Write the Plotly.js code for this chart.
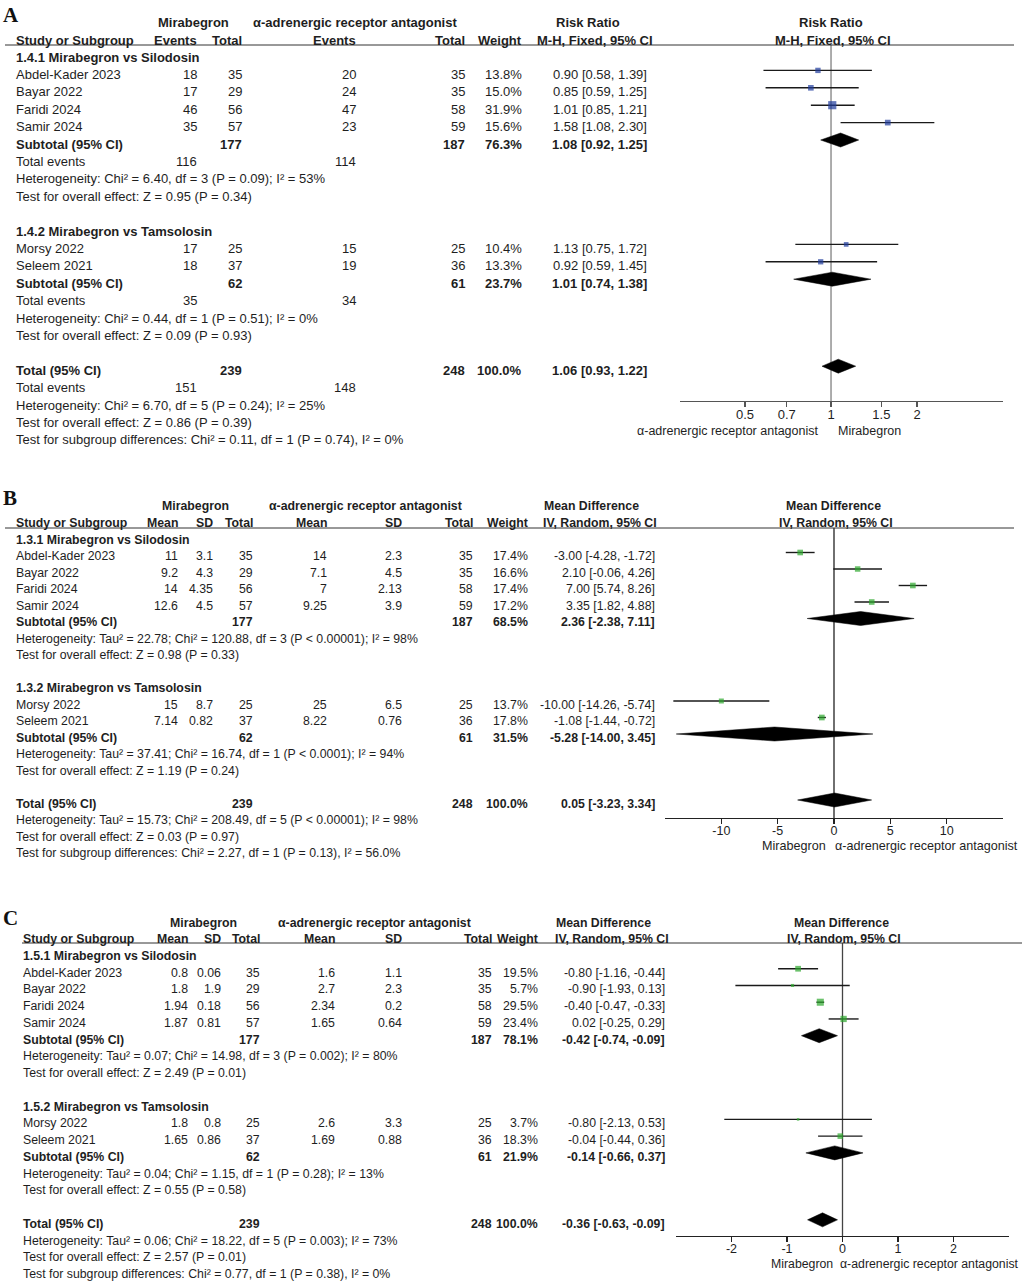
<!DOCTYPE html>
<html>
<head>
<meta charset="utf-8">
<script src="https://cdn.plot.ly/plotly-3.0.1.min.js"></script>
<style>html,body{margin:0;padding:0;background:#fff;overflow:hidden}</style>
</head>
<body>
<div id="chart" style="width:1024px;height:1286px"></div>
<script>
// ================= DATA =================
const studies = ['Abdel-Kader 2023','Bayar 2022','Faridi 2024','Samir 2024','Morsy 2022','Seleem 2021'];
const studyGroup = [0,0,0,0,1,1];
const mirTotal = [35,29,56,57,25,37];
const altTotal = [35,35,58,59,25,36];
const subMirTotal = [177,62];
const subAltTotal = [187,61];
const totMirTotal = 239;
const totAltTotal = 248;
const totWeight = 100.0;
const alphaLabel = 'α-adrenergic receptor antagonist';

// ---- Panel A: Risk Ratio (events) ----
const A_subgroups = ['1.4.1 Mirabegron vs Silodosin','1.4.2 Mirabegron vs Tamsolosin'];
const A_mirEvents = [18,17,46,35,17,18];
const A_altEvents = [20,24,47,23,15,19];
const A_weight = [13.8,15.0,31.9,15.6,10.4,13.3];
const A_est = [0.90,0.85,1.01,1.58,1.13,0.92];
const A_lo  = [0.58,0.59,0.85,1.08,0.75,0.59];
const A_hi  = [1.39,1.25,1.21,2.30,1.72,1.45];
const A_subMirEvents = [116,35];
const A_subAltEvents = [114,34];
const A_subWeight = [76.3,23.7];
const A_subEst = [1.08,1.01];
const A_subLo  = [0.92,0.74];
const A_subHi  = [1.25,1.38];
const A_subHet = ['Heterogeneity: Chi² = 6.40, df = 3 (P = 0.09); I² = 53%','Heterogeneity: Chi² = 0.44, df = 1 (P = 0.51); I² = 0%'];
const A_subTest = ['Test for overall effect: Z = 0.95 (P = 0.34)','Test for overall effect: Z = 0.09 (P = 0.93)'];
const A_totMirEvents = 151;
const A_totAltEvents = 148;
const A_tot = [1.06,0.93,1.22];
const A_totNotes = ['Heterogeneity: Chi² = 6.70, df = 5 (P = 0.24); I² = 25%','Test for overall effect: Z = 0.86 (P = 0.39)','Test for subgroup differences: Chi² = 0.11, df = 1 (P = 0.74), I² = 0%'];
const A_ticks = [0.5,0.7,1,1.5,2];

// ---- Panel B: Mean Difference ----
const B_subgroups = ['1.3.1 Mirabegron vs Silodosin','1.3.2 Mirabegron vs Tamsolosin'];
const B_mirMean = [11,9.2,14,12.6,15,7.14];
const B_mirSD   = [3.1,4.3,4.35,4.5,8.7,0.82];
const B_altMean = [14,7.1,7,9.25,25,8.22];
const B_altSD   = [2.3,4.5,2.13,3.9,6.5,0.76];
const B_weight = [17.4,16.6,17.4,17.2,13.7,17.8];
const B_est = [-3.00,2.10,7.00,3.35,-10.00,-1.08];
const B_lo  = [-4.28,-0.06,5.74,1.82,-14.26,-1.44];
const B_hi  = [-1.72,4.26,8.26,4.88,-5.74,-0.72];
const B_subWeight = [68.5,31.5];
const B_subEst = [2.36,-5.28];
const B_subLo  = [-2.38,-14.00];
const B_subHi  = [7.11,3.45];
const B_subHet = ['Heterogeneity: Tau² = 22.78; Chi² = 120.88, df = 3 (P &lt; 0.00001); I² = 98%','Heterogeneity: Tau² = 37.41; Chi² = 16.74, df = 1 (P &lt; 0.0001); I² = 94%'];
const B_subTest = ['Test for overall effect: Z = 0.98 (P = 0.33)','Test for overall effect: Z = 1.19 (P = 0.24)'];
const B_tot = [0.05,-3.23,3.34];
const B_totNotes = ['Heterogeneity: Tau² = 15.73; Chi² = 208.49, df = 5 (P &lt; 0.00001); I² = 98%','Test for overall effect: Z = 0.03 (P = 0.97)','Test for subgroup differences: Chi² = 2.27, df = 1 (P = 0.13), I² = 56.0%'];
const B_ticks = [-10,-5,0,5,10];

// ---- Panel C: Mean Difference ----
const C_subgroups = ['1.5.1 Mirabegron vs Silodosin','1.5.2 Mirabegron vs Tamsolosin'];
const C_mirMean = [0.8,1.8,1.94,1.87,1.8,1.65];
const C_mirSD   = [0.06,1.9,0.18,0.81,0.8,0.86];
const C_altMean = [1.6,2.7,2.34,1.65,2.6,1.69];
const C_altSD   = [1.1,2.3,0.2,0.64,3.3,0.88];
const C_weight = [19.5,5.7,29.5,23.4,3.7,18.3];
const C_est = [-0.80,-0.90,-0.40,0.02,-0.80,-0.04];
const C_lo  = [-1.16,-1.93,-0.47,-0.25,-2.13,-0.44];
const C_hi  = [-0.44,0.13,-0.33,0.29,0.53,0.36];
const C_subWeight = [78.1,21.9];
const C_subEst = [-0.42,-0.14];
const C_subLo  = [-0.74,-0.66];
const C_subHi  = [-0.09,0.37];
const C_subHet = ['Heterogeneity: Tau² = 0.07; Chi² = 14.98, df = 3 (P = 0.002); I² = 80%','Heterogeneity: Tau² = 0.04; Chi² = 1.15, df = 1 (P = 0.28); I² = 13%'];
const C_subTest = ['Test for overall effect: Z = 2.49 (P = 0.01)','Test for overall effect: Z = 0.55 (P = 0.58)'];
const C_tot = [-0.36,-0.63,-0.09];
const C_totNotes = ['Heterogeneity: Tau² = 0.06; Chi² = 18.22, df = 5 (P = 0.003); I² = 73%','Test for overall effect: Z = 2.57 (P = 0.01)','Test for subgroup differences: Chi² = 0.77, df = 1 (P = 0.38), I² = 0%'];
const C_ticks = [-2,-1,0,1,2];

// ================= RENDERING =================
const W = 1024, H = 1286;
const FONT = '"Liberation Sans", Arial, Helvetica, sans-serif';
const SERIF = '"Liberation Serif", "Times New Roman", serif';
const TXT = '#1e1e1e';
const fmtW = w => w.toFixed(1) + '%';
const fmtCI = (e,l,h) => e.toFixed(2) + ' [' + l.toFixed(2) + ', ' + h.toFixed(2) + ']';

const layout = {
  width: W, height: H, margin: {l:0,r:0,t:0,b:0},
  paper_bgcolor: '#ffffff', plot_bgcolor: 'rgba(0,0,0,0)',
  showlegend: false, annotations: [], shapes: [], hovermode: false
};
const traces = [];

function addPanel(P) {
  const xa = 'x' + P.ax, ya = 'y' + P.ax;
  layout['yaxis' + P.ax] = {
    domain: [1 - P.bandBottom / H, 1 - P.bandTop / H],
    range: [(P.bandBottom - P.y0) / P.dy, (P.bandTop - P.y0) / P.dy],
    visible: false, showgrid: false, zeroline: false, fixedrange: true, anchor: xa
  };
  layout['xaxis' + P.ax] = {
    domain: [P.xl / W, P.xr / W], type: P.xtype, range: P.xrange,
    anchor: 'free', position: 1 - P.axisPx / H,
    showline: true, linecolor: P.axColor, linewidth: 1.3,
    ticks: 'outside', ticklen: 5, tickwidth: 1.3, tickcolor: P.axColor,
    ticklabelstandoff: -4,
    tickmode: 'array', tickvals: P.ticks, ticktext: P.ticks.map(String),
    tickfont: {family: FONT, size: P.tickFs, color: TXT},
    showgrid: false, zeroline: false, fixedrange: true
  };
  const T = (x, r, s, anchor, bold) => layout.annotations.push({
    xref: 'paper', yref: ya, x: x / W, y: r, yshift: -P.tshift,
    text: bold ? '<b>' + s + '</b>' : s, showarrow: false,
    xanchor: anchor, yanchor: 'middle', borderpad: 0, borderwidth: 0,
    font: {family: FONT, size: P.fs, color: TXT}
  });
  const TP = (x, ypx, s, anchor, font) => layout.annotations.push({
    xref: 'paper', yref: 'paper', x: x / W, y: 1 - ypx / H, text: s, showarrow: false,
    xanchor: anchor, yanchor: 'middle', borderpad: 0, borderwidth: 0, font: font
  });

  // panel letter
  TP(3, P.letterY, '<b>' + P.letter + '</b>', 'left', {family: SERIF, size: 21, color: '#111'});
  // headers
  P.hdr1.forEach(h => T(h[0], P.h1Row, h[1], h[2], true));
  P.hdr2.forEach(h => T(h[0], P.h2Row, h[1], h[2], true));
  // header rule
  layout.shapes.push({type: 'line', xref: 'paper', yref: 'paper', x0: P.hlX0 / W, x1: P.hlX1 / W,
    y0: 1 - P.lineTopPx / H, y1: 1 - P.lineTopPx / H, line: {color: '#333', width: 1}});

  // body rows
  let r = 0;
  const studyRows = [], subRows = [];
  P.subgroups.forEach((g, gi) => {
    T(P.nameX, r, g, 'left', true); r++;
    studyGroup.forEach((sg, i) => {
      if (sg !== gi) return;
      T(P.nameX, r, studies[i], 'left', false);
      P.studyCols.forEach(c => T(c[0], r, String(c[1][i]), 'right', false));
      T(P.wX, r, fmtW(P.weight[i]), 'right', false);
      T(P.estX, r, fmtCI(P.est[i], P.lo[i], P.hi[i]), 'right', false);
      studyRows[i] = r; r++;
    });
    T(P.nameX, r, 'Subtotal (95% CI)', 'left', true);
    P.subCols.forEach(c => T(c[0], r, String(c[1][gi]), 'right', true));
    T(P.wX, r, fmtW(P.subWeight[gi]), 'right', true);
    T(P.estX, r, fmtCI(P.subEst[gi], P.subLo[gi], P.subHi[gi]), 'right', true);
    subRows[gi] = r; r++;
    if (P.subEventCols) {
      T(P.nameX, r, 'Total events', 'left', false);
      P.subEventCols.forEach(c => T(c[0], r, String(c[1][gi]), 'right', false));
      r++;
    }
    T(P.nameX, r, P.subHet[gi], 'left', false); r++;
    T(P.nameX, r, P.subTest[gi], 'left', false); r++;
    r++;
  });
  T(P.nameX, r, 'Total (95% CI)', 'left', true);
  P.totCols.forEach(c => T(c[0], r, String(c[1]), 'right', true));
  T(P.wX, r, fmtW(totWeight), 'right', true);
  T(P.estX, r, fmtCI(P.tot[0], P.tot[1], P.tot[2]), 'right', true);
  const totRow = r; r++;
  if (P.totEventCols) {
    T(P.nameX, r, 'Total events', 'left', false);
    P.totEventCols.forEach(c => T(c[0], r, String(c[1]), 'right', false));
    r++;
  }
  P.totNotes.forEach(s => { T(P.nameX, r, s, 'left', false); r++; });

  // favours labels
  P.favours.forEach(f => TP(f[0], P.favY, f[1], f[2], {family: FONT, size: P.favFs, color: TXT}));

  // null line
  layout.shapes.push({type: 'line', xref: xa, yref: ya, x0: P.nullX, x1: P.nullX,
    y0: (P.lineTopPx - P.y0) / P.dy, y1: (P.axisPx - P.y0) / P.dy,
    line: {color: P.nullColor, width: 1.3}, layer: 'below'});

  // study estimates with CIs
  traces.push({
    type: 'scatter', mode: 'markers', xaxis: xa, yaxis: ya,
    x: P.est, y: studyRows,
    marker: {symbol: 'square', color: P.color, size: P.weight.map(w => P.msize * Math.sqrt(w)), line: {width: 0}},
    error_x: {type: 'data', symmetric: false,
      array: P.hi.map((h, i) => h - P.est[i]),
      arrayminus: P.est.map((e, i) => e - P.lo[i]),
      width: 0, thickness: 1.4, color: '#1a1a1a'},
    hoverinfo: 'skip', showlegend: false
  });
  // diamonds
  const hh = 7 / P.dy;
  const dia = (e, l, h, rr) => traces.push({
    type: 'scatter', mode: 'lines', xaxis: xa, yaxis: ya,
    x: [l, e, h, e, l], y: [rr, rr - hh, rr, rr + hh, rr],
    fill: 'toself', fillcolor: '#000', line: {color: '#000', width: 0.5},
    hoverinfo: 'skip', showlegend: false
  });
  P.subEst.forEach((e, gi) => dia(e, P.subLo[gi], P.subHi[gi], subRows[gi]));
  dia(P.tot[0], P.tot[1], P.tot[2], totRow);
}

// ---- Panel A ----
addPanel({
  ax: '', letter: 'A', letterY: 15,
  bandTop: 0, bandBottom: 460, y0: 53, dy: 17.4, tshift: 4, fs: 13,
  xl: 680, xr: 1003, xtype: 'log', xrange: [Math.log10(0.296), Math.log10(4.0)],
  axisPx: 401, lineTopPx: 45, hlX0: 5, hlX1: 1014,
  nullX: 1, nullColor: '#808080', axColor: '#555', color: '#1f3c9c', msize: 1.45,
  ticks: A_ticks, tickFs: 13,
  nameX: 16, wX: 522, estX: 647, h1Row: -2.0, h2Row: -0.95,
  hdr1: [[193,'Mirabegron','center'],[355,alphaLabel,'center'],[588,'Risk Ratio','center'],[831,'Risk Ratio','center']],
  hdr2: [[16,'Study or Subgroup','left'],[197,'Events','right'],[242,'Total','right'],[356,'Events','right'],[465,'Total','right'],[522,'Weight','right'],[595,'M-H, Fixed, 95% CI','center'],[833,'M-H, Fixed, 95% CI','center']],
  subgroups: A_subgroups,
  studyCols: [[197, A_mirEvents],[242, mirTotal],[356, A_altEvents],[465, altTotal]],
  weight: A_weight, est: A_est, lo: A_lo, hi: A_hi,
  subCols: [[242, subMirTotal],[465, subAltTotal]],
  subEventCols: [[197, A_subMirEvents],[356, A_subAltEvents]],
  subWeight: A_subWeight, subEst: A_subEst, subLo: A_subLo, subHi: A_subHi,
  subHet: A_subHet, subTest: A_subTest,
  totCols: [[242, totMirTotal],[465, totAltTotal]],
  totEventCols: [[197, A_totMirEvents],[356, A_totAltEvents]],
  tot: A_tot, totNotes: A_totNotes,
  favours: [[818, alphaLabel, 'right'],[838, 'Mirabegron', 'left']], favY: 431, favFs: 12.5
});

// ---- Panel B ----
addPanel({
  ax: '2', letter: 'B', letterY: 498,
  bandTop: 465, bandBottom: 872, y0: 536, dy: 16.5, tshift: 4, fs: 12.3,
  xl: 665, xr: 1003, xtype: 'linear', xrange: [-15, 15],
  axisPx: 818, lineTopPx: 528, hlX0: 5, hlX1: 1014,
  nullX: 0, nullColor: '#222', axColor: '#222', color: '#2ea82e', msize: 1.35,
  ticks: B_ticks, tickFs: 12.5,
  nameX: 16, wX: 528, estX: 655, h1Row: -2.06, h2Row: -1.03,
  hdr1: [[195,'Mirabegron','center'],[365,alphaLabel,'center'],[591,'Mean Difference','center'],[833,'Mean Difference','center']],
  hdr2: [[16,'Study or Subgroup','left'],[178,'Mean','right'],[213,'SD','right'],[253,'Total','right'],[327,'Mean','right'],[402,'SD','right'],[473,'Total','right'],[528,'Weight','right'],[600,'IV, Random, 95% CI','center'],[836,'IV, Random, 95% CI','center']],
  subgroups: B_subgroups,
  studyCols: [[178, B_mirMean],[213, B_mirSD],[253, mirTotal],[327, B_altMean],[402, B_altSD],[473, altTotal]],
  weight: B_weight, est: B_est, lo: B_lo, hi: B_hi,
  subCols: [[253, subMirTotal],[473, subAltTotal]],
  subWeight: B_subWeight, subEst: B_subEst, subLo: B_subLo, subHi: B_subHi,
  subHet: B_subHet, subTest: B_subTest,
  totCols: [[253, totMirTotal],[473, totAltTotal]],
  tot: B_tot, totNotes: B_totNotes,
  favours: [[826, 'Mirabegron', 'right'],[835, alphaLabel, 'left']], favY: 846, favFs: 12.6
});

// ---- Panel C ----
addPanel({
  ax: '3', letter: 'C', letterY: 918,
  bandTop: 885, bandBottom: 1286, y0: 952, dy: 16.74, tshift: 4, fs: 12.3,
  xl: 676, xr: 1009, xtype: 'linear', xrange: [-3, 3],
  axisPx: 1236, lineTopPx: 943, hlX0: 22, hlX1: 1022,
  nullX: 0, nullColor: '#444', axColor: '#222', color: '#2ea82e', msize: 1.3,
  ticks: C_ticks, tickFs: 12.5,
  nameX: 23, wX: 538, estX: 665, h1Row: -1.97, h2Row: -1.02,
  hdr1: [[203,'Mirabegron','center'],[374,alphaLabel,'center'],[603,'Mean Difference','center'],[841,'Mean Difference','center']],
  hdr2: [[23,'Study or Subgroup','left'],[188,'Mean','right'],[221,'SD','right'],[260,'Total','right'],[335,'Mean','right'],[402,'SD','right'],[492,'Total','right'],[538,'Weight','right'],[612,'IV, Random, 95% CI','center'],[844,'IV, Random, 95% CI','center']],
  subgroups: C_subgroups,
  studyCols: [[188, C_mirMean],[221, C_mirSD],[260, mirTotal],[335, C_altMean],[402, C_altSD],[492, altTotal]],
  weight: C_weight, est: C_est, lo: C_lo, hi: C_hi,
  subCols: [[260, subMirTotal],[492, subAltTotal]],
  subWeight: C_subWeight, subEst: C_subEst, subLo: C_subLo, subHi: C_subHi,
  subHet: C_subHet, subTest: C_subTest,
  totCols: [[260, totMirTotal],[492, totAltTotal]],
  tot: C_tot, totNotes: C_totNotes,
  favours: [[833, 'Mirabegron', 'right'],[840, alphaLabel, 'left']], favY: 1264, favFs: 12.3
});

Plotly.newPlot('chart', traces, layout, {displayModeBar: false, staticPlot: true});
</script>
</body>
</html>
